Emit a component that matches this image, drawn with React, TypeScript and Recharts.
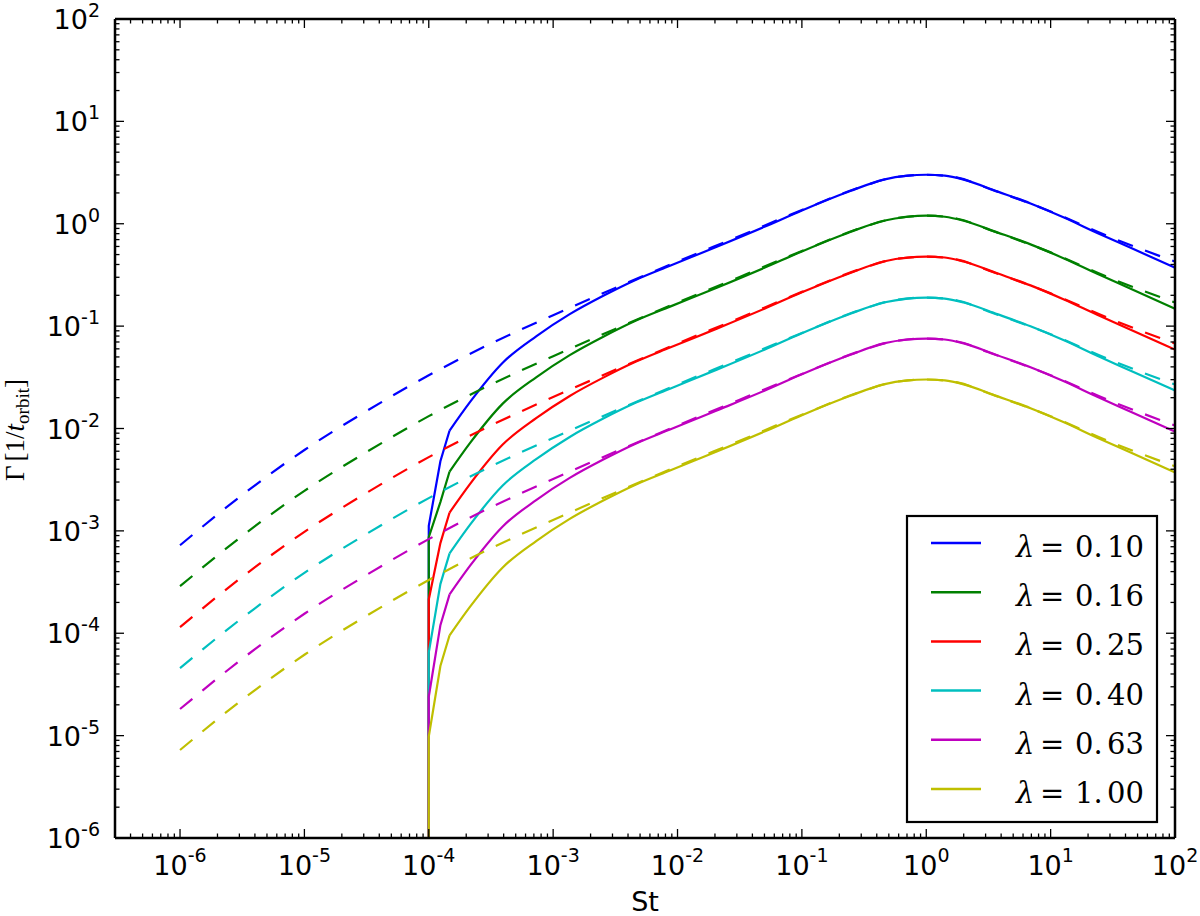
import React from "react";
import { LineChart, Line, XAxis, YAxis, Customized } from "recharts";

const LAMBDAS = ["0.10", "0.16", "0.25", "0.40", "0.63", "1.00"];
const COLORS = ["#0000ff", "#008000", "#ff0000", "#00bfbf", "#bf00bf", "#bfbf00"];

// dashed curves (approximation), St grid
const DASHED_ST = [1e-6, 3.16e-6, 1e-5, 3.16e-5, 1e-4, 3.16e-4, 1e-3, 3.16e-3, 1e-2, 3.16e-2, 0.1, 0.316, 0.562, 1, 1.78, 3.16, 10, 31.6, 100];
const DASH_010 = [7.24e-4, 2.24e-3, 6.17e-3, 1.48e-2, 3.31e-2, 6.76e-2, 0.128, 0.236, 0.427, 0.759, 1.36, 2.34, 2.85, 3.01, 2.82, 2.21, 1.32, 0.724, 0.427];
const DASH_016 = [2.88e-4, 8.92e-4, 2.46e-3, 5.89e-3, 1.32e-2, 2.69e-2, 5.09e-2, 9.39e-2, 0.17, 0.302, 0.541, 0.931, 1.13, 1.2, 1.12, 0.88, 0.525, 0.288, 0.17];
const DASH_025 = [1.15e-4, 3.55e-4, 9.78e-4, 2.35e-3, 5.25e-3, 1.07e-2, 2.03e-2, 3.74e-2, 6.77e-2, 0.12, 0.216, 0.371, 0.452, 0.477, 0.447, 0.35, 0.209, 0.115, 0.0677];
const DASH_040 = [4.57e-5, 1.41e-4, 3.89e-4, 9.34e-4, 2.09e-3, 4.27e-3, 8.08e-3, 1.49e-2, 2.69e-2, 4.79e-2, 8.58e-2, 0.148, 0.18, 0.19, 0.178, 0.139, 8.33e-2, 4.57e-2, 2.69e-2];
const DASH_063 = [1.82e-5, 5.62e-5, 1.55e-4, 3.71e-4, 8.31e-4, 1.7e-3, 3.21e-3, 5.92e-3, 1.07e-2, 1.91e-2, 3.41e-2, 5.87e-2, 7.15e-2, 7.56e-2, 7.08e-2, 5.55e-2, 3.31e-2, 1.82e-2, 1.07e-2];
const DASH_100 = [7.24e-6, 2.24e-5, 6.17e-5, 1.48e-4, 3.31e-4, 6.76e-4, 1.28e-3, 2.36e-3, 4.27e-3, 7.59e-3, 1.36e-2, 2.34e-2, 2.85e-2, 3.01e-2, 2.82e-2, 2.21e-2, 1.32e-2, 7.24e-3, 4.27e-3];
const DASHED = [DASH_010, DASH_016, DASH_025, DASH_040, DASH_063, DASH_100];

// solid curves (full solution), start at St = 1e-4
const THRESHOLD_ST = 1e-4;
const BELOW_AXIS = 1e-9;
const THRESHOLD_TOP = [1.12e-3, 8.7e-4, 2.14e-4, 6.46e-5, 2.4e-5, 9.8e-6];
const SOLID_ST = [1.24e-4, 1.47e-4, 2.15e-4, 3.95e-4, 7.35e-4, 1.36e-3, 2.53e-3, 4.69e-3, 8.7e-3, 2.07e-2, 5.0e-2, 0.1, 0.245, 0.454, 0.708, 1, 1.41, 2.0, 3.72, 6.89, 12.8, 23.7, 44.0, 100];
const SOLID_010 = [4.79e-3, 9.55e-3, 1.82e-2, 4.42e-2, 8.0e-2, 0.131, 0.198, 0.286, 0.389, 0.596, 0.933, 1.35, 2.09, 2.7, 2.95, 3.01, 2.95, 2.7, 2.07, 1.58, 1.15, 0.813, 0.582, 0.372];
const SOLID_016 = [1.91e-3, 3.8e-3, 7.24e-3, 1.76e-2, 3.18e-2, 5.21e-2, 7.88e-2, 0.114, 0.155, 0.237, 0.371, 0.537, 0.832, 1.07, 1.17, 1.2, 1.17, 1.07, 0.824, 0.629, 0.458, 0.324, 0.232, 0.148];
const SOLID_025 = [7.59e-4, 1.51e-3, 2.88e-3, 7.01e-3, 1.27e-2, 2.08e-2, 3.14e-2, 4.53e-2, 6.17e-2, 9.45e-2, 0.148, 0.214, 0.331, 0.428, 0.468, 0.477, 0.468, 0.428, 0.328, 0.25, 0.182, 0.129, 9.22e-2, 5.9e-2];
const SOLID_040 = [3.02e-4, 6.03e-4, 1.15e-3, 2.79e-3, 5.05e-3, 8.27e-3, 1.25e-2, 1.8e-2, 2.45e-2, 3.76e-2, 5.89e-2, 8.52e-2, 0.132, 0.17, 0.186, 0.19, 0.186, 0.17, 0.131, 9.97e-2, 7.26e-2, 5.13e-2, 3.67e-2, 2.35e-2];
const SOLID_063 = [1.2e-4, 2.4e-4, 4.57e-4, 1.11e-3, 2.01e-3, 3.29e-3, 4.97e-3, 7.18e-3, 9.76e-3, 1.5e-2, 2.34e-2, 3.39e-2, 5.25e-2, 6.78e-2, 7.4e-2, 7.56e-2, 7.4e-2, 6.78e-2, 5.2e-2, 3.97e-2, 2.89e-2, 2.04e-2, 1.46e-2, 9.34e-3];
const SOLID_100 = [4.79e-5, 9.55e-5, 1.82e-4, 4.42e-4, 8.0e-4, 1.31e-3, 1.98e-3, 2.86e-3, 3.89e-3, 5.96e-3, 9.33e-3, 1.35e-2, 2.09e-2, 2.7e-2, 2.95e-2, 3.01e-2, 2.95e-2, 2.7e-2, 2.07e-2, 1.58e-2, 1.15e-2, 8.13e-3, 5.82e-3, 3.72e-3];
const SOLID = [SOLID_010, SOLID_016, SOLID_025, SOLID_040, SOLID_063, SOLID_100];

const X_DOMAIN = [3e-7, 100];
const Y_DOMAIN = [1e-6, 100];
const X_MAJOR = [1e-6, 1e-5, 1e-4, 1e-3, 1e-2, 1e-1, 1, 10, 100];
const Y_MAJOR = [1e-6, 1e-5, 1e-4, 1e-3, 1e-2, 1e-1, 1, 10, 100];
const MINOR_MANT = [2, 3, 4, 5, 6, 7, 8, 9];

function withMinor(majors: number[], lo: number, hi: number) {
  const out: number[] = [];
  for (const m of [majors[0] / 10, ...majors]) {
    for (const k of MINOR_MANT) {
      const v = m * k;
      if (v > lo && v < hi) out.push(v);
    }
  }
  return [...majors, ...out];
}
const X_TICKS = withMinor(X_MAJOR, X_DOMAIN[0], X_DOMAIN[1]);
const Y_TICKS = withMinor(Y_MAJOR, Y_DOMAIN[0], Y_DOMAIN[1]);

const FONT = "DejaVu Sans";
const MAJOR_LEN = 9;
const MINOR_LEN = 4.5;

function isMajor(v: number) {
  const l = Math.log10(v);
  return Math.abs(l - Math.round(l)) < 1e-6;
}

function BottomTick({ x, y, payload }: any) {
  const v = payload.value;
  const major = isMajor(v);
  return (
    <g>
      <line x1={x} x2={x} y1={y} y2={y - (major ? MAJOR_LEN : MINOR_LEN)} stroke="#000" strokeWidth={1.3} />
      {major && (
        <text x={x} y={y + 37} textAnchor="middle" fontFamily={FONT} fontSize={27} fill="#000">
          10<tspan dy={-13} fontSize={19}>{Math.round(Math.log10(v))}</tspan>
        </text>
      )}
    </g>
  );
}

function TopTick({ x, y, payload }: any) {
  const major = isMajor(payload.value);
  return <line x1={x} x2={x} y1={y} y2={y + (major ? MAJOR_LEN : MINOR_LEN)} stroke="#000" strokeWidth={1.3} />;
}

function LeftTick({ x, y, payload }: any) {
  const v = payload.value;
  const major = isMajor(v);
  return (
    <g>
      <line x1={x} x2={x + (major ? MAJOR_LEN : MINOR_LEN)} y1={y} y2={y} stroke="#000" strokeWidth={1.3} />
      {major && (
        <text x={x - 15} y={y + 10} textAnchor="end" fontFamily={FONT} fontSize={27} fill="#000">
          10<tspan dy={-12} fontSize={19}>{Math.round(Math.log10(v))}</tspan>
        </text>
      )}
    </g>
  );
}

function RightTick({ x, y, payload }: any) {
  const major = isMajor(payload.value);
  return <line x1={x} x2={x - (major ? MAJOR_LEN : MINOR_LEN)} y1={y} y2={y} stroke="#000" strokeWidth={1.3} />;
}

function Labels() {
  return (
    <g>
      <text x={645} y={911} textAnchor="middle" fontFamily={FONT} fontSize={27} fill="#000">
        St
      </text>
      <text
        transform="translate(24,430) rotate(-90)"
        textAnchor="middle"
        fontFamily="Liberation Serif"
        fontSize={27}
        fill="#000"
      >
        Γ<tspan dx={4}>[1/</tspan>
        <tspan fontStyle="italic">t</tspan>
        <tspan fontSize={19} dy={5}>orbit</tspan>
        <tspan dy={-5}>]</tspan>
      </text>
    </g>
  );
}

function LegendBox() {
  return (
    <g>
      <rect x={907} y={516} width={250} height={306} fill="#fff" stroke="#000" strokeWidth={2.2} />
      {LAMBDAS.map((lam, i) => {
        const y = 543 + i * 49.2;
        const [a, b] = lam.split(".");
        return (
          <g key={lam}>
            <line x1={931} x2={981} y1={y} y2={y} stroke={COLORS[i]} strokeWidth={2.5} />
            <text y={y + 14} fontFamily="DejaVu Serif" fontSize={29} fill="#000">
              <tspan x={1016} fontStyle="italic">λ</tspan>
              <tspan x={1040}>=</tspan>
              <tspan x={1075}>{a}.</tspan>
              <tspan x={1107}>{b}</tspan>
            </text>
          </g>
        );
      })}
    </g>
  );
}

export default function App() {
  const series = LAMBDAS.map((lam, i) => ({
    lam,
    color: COLORS[i],
    dashed: DASHED_ST.map((st, j) => ({ st, g: DASHED[i][j] })),
    threshold: [
      { st: THRESHOLD_ST, g: BELOW_AXIS },
      { st: THRESHOLD_ST, g: THRESHOLD_TOP[i] },
      { st: SOLID_ST[0], g: SOLID[i][0] },
      { st: SOLID_ST[1], g: SOLID[i][1] },
    ],
    solid: SOLID_ST.slice(1).map((st, j) => ({ st, g: SOLID[i][j + 1] })),
  }));

  const axisLine = { stroke: "#000", strokeWidth: 2.5 };

  return (
    <div style={{ position: "absolute", left: 0, top: 0, width: 1200, height: 916, background: "#fff" }}>
      <LineChart width={1200} height={916} margin={{ top: 18, right: 15, bottom: 8, left: 15 }}>
        <XAxis
          dataKey="st"
          type="number"
          scale="log"
          domain={X_DOMAIN}
          allowDataOverflow
          ticks={X_TICKS}
          interval={0}
          tickSize={0}
          tickMargin={0}
          tickLine={false}
          axisLine={axisLine}
          tick={BottomTick}
          height={70}
        />
        <XAxis
          xAxisId="top"
          orientation="top"
          dataKey="st"
          type="number"
          scale="log"
          domain={X_DOMAIN}
          allowDataOverflow
          ticks={X_TICKS}
          interval={0}
          tickSize={0}
          tickMargin={0}
          tickLine={false}
          axisLine={axisLine}
          tick={TopTick}
          height={1}
        />
        <YAxis
          type="number"
          scale="log"
          domain={Y_DOMAIN}
          allowDataOverflow
          ticks={Y_TICKS}
          interval={0}
          tickSize={0}
          tickMargin={0}
          tickLine={false}
          axisLine={axisLine}
          tick={LeftTick}
          width={100}
        />
        <YAxis
          yAxisId="right"
          orientation="right"
          type="number"
          scale="log"
          domain={Y_DOMAIN}
          allowDataOverflow
          ticks={Y_TICKS}
          interval={0}
          tickSize={0}
          tickMargin={0}
          tickLine={false}
          axisLine={axisLine}
          tick={RightTick}
          width={10}
        />
        {series.flatMap((s) => [
          <Line
            key={`thr-${s.lam}`}
            data={s.threshold}
            dataKey="g"
            type="linear"
            stroke={s.color}
            strokeWidth={2.2}
            dot={false}
            activeDot={false}
            isAnimationActive={false}
          />,
          <Line
            key={`sol-${s.lam}`}
            data={s.solid}
            dataKey="g"
            type="monotone"
            stroke={s.color}
            strokeWidth={2.2}
            dot={false}
            activeDot={false}
            isAnimationActive={false}
          />,
          <Line
            key={`dash-${s.lam}`}
            data={s.dashed}
            dataKey="g"
            type="monotone"
            stroke={s.color}
            strokeWidth={2.2}
            strokeDasharray="16 13"
            dot={false}
            activeDot={false}
            isAnimationActive={false}
          />,
        ])}
        <Customized component={Labels} />
        <Customized component={LegendBox} />
      </LineChart>
    </div>
  );
}
